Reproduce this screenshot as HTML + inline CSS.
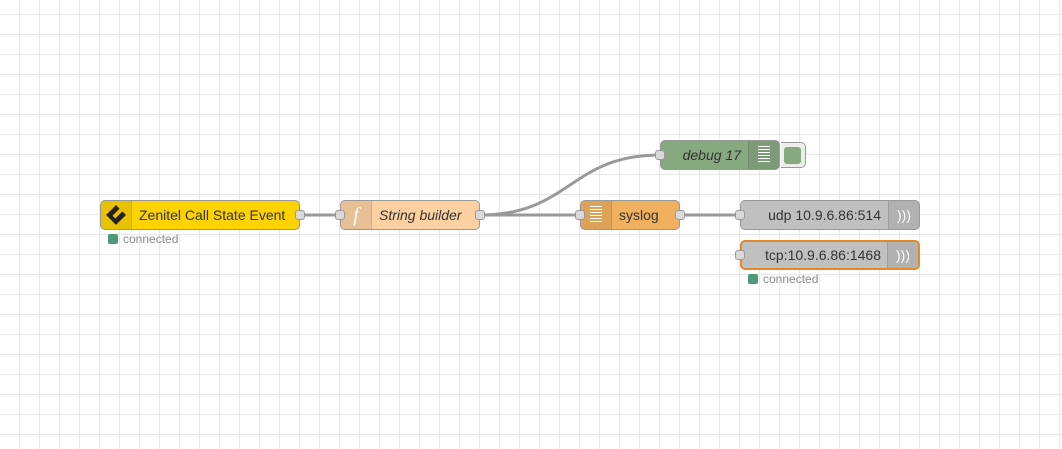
<!DOCTYPE html>
<html><head><style>
body{margin:0;width:1062px;height:449px;overflow:hidden;background:#fff;
background-image:linear-gradient(#e8e8e8 1px,transparent 1px),linear-gradient(90deg,#e8e8e8 1px,transparent 1px);
background-size:20px 20px;background-position:19px 14px;font-family:"Liberation Sans",sans-serif;position:relative}
.n{position:absolute;height:30px;border:1px solid #999;border-radius:5px;box-sizing:border-box;font-size:14px;color:#333;line-height:28px}
.ic{position:absolute;top:0;bottom:0;width:30px;background:rgba(0,0,0,0.08);}
.ic.l{left:0;border-right:1px solid rgba(0,0,0,0.1);border-radius:4px 0 0 4px}
.ic.r{right:0;border-left:1px solid rgba(0,0,0,0.1);border-radius:0 4px 4px 0}
.p{position:absolute;width:10px;height:10px;background:#d9d9d9;border:1px solid #999;border-radius:3px;box-sizing:border-box;top:9px}
.st{position:absolute;font-size:12px;color:#888}
.st i{display:inline-block;width:10px;height:10px;background:#4c9a7a;border-radius:2px;margin-right:5px;vertical-align:-1px}
.lines{position:absolute;width:12px}
.lines b{display:block;height:1px;background:#fff;margin-bottom:2px}
</style></head><body>
<svg width="1062" height="449" style="position:absolute;left:0;top:0">
<g stroke="#999" stroke-width="3" fill="none">
<path d="M300 215 L340 215"/>
<path d="M480 215 L580 215"/>
<path d="M480 215 C570 215 570 155 660 155"/>
<path d="M680 215 L740 215"/>
</g></svg>

<div class="n" style="left:100px;top:200px;width:200px;background:#fcd200">
<div class="ic l"><svg width="30" height="28"><g transform="translate(15,14) rotate(45)"><rect x="-7" y="-7" width="14" height="14" fill="#222"/><rect x="-2" y="-9" width="4" height="12" fill="#e8c000"/></g></svg></div>
<span style="position:absolute;left:38px">Zenitel Call State Event</span>
<div class="p" style="right:-6px"></div></div>
<div class="st" style="left:108px;top:232px"><i></i>connected</div>

<div class="n" style="left:340px;top:200px;width:140px;background:#fdd0a2">
<div class="ic l" style="color:#fff;font-size:20px;text-align:center;font-style:italic;font-family:'Liberation Serif',serif">f</div>
<span style="position:absolute;left:38px;font-style:italic">String builder</span>
<div class="p" style="left:-6px"></div><div class="p" style="right:-6px"></div></div>

<div class="n" style="left:660px;top:140px;width:120px;background:#87a980">
<span style="position:absolute;right:38px;font-style:italic">debug 17</span>
<div class="ic r"><div class="lines" style="left:9px;top:5px"><b></b><b></b><b></b><b></b><b></b><b></b></div></div>
<div class="p" style="left:-6px"></div></div>
<div style="position:absolute;left:781px;top:142px;width:25px;height:26px;border:1px solid #999;border-left:none;border-radius:0 5px 5px 0;background:#eee;box-sizing:border-box"><div style="position:absolute;left:3px;top:4px;width:17px;height:17px;background:#87a980;border-radius:3px"></div></div>

<div class="n" style="left:580px;top:200px;width:100px;background:#f0b060">
<div class="ic l"><div class="lines" style="left:9px;top:5px"><b></b><b></b><b></b><b></b><b></b><b></b></div></div>
<span style="position:absolute;left:38px">syslog</span>
<div class="p" style="left:-6px"></div><div class="p" style="right:-6px"></div></div>

<div class="n" style="left:740px;top:200px;width:180px;background:#c0c0c0">
<span style="position:absolute;right:38px">udp 10.9.6.86:514</span>
<div class="ic r" style="color:#fff;text-align:center;font-size:14px">)))</div>
<div class="p" style="left:-6px"></div></div>

<div class="n" style="left:740px;top:240px;width:180px;background:#c0c0c0;border:2px solid #e08a30;line-height:26px">
<span style="position:absolute;right:37px">tcp:10.9.6.86:1468</span>
<div class="ic r" style="color:#fff;text-align:center;font-size:14px">)))</div>
<div class="p" style="left:-7px;top:8px"></div></div>
<div class="st" style="left:748px;top:272px"><i></i>connected</div>
</body></html>
